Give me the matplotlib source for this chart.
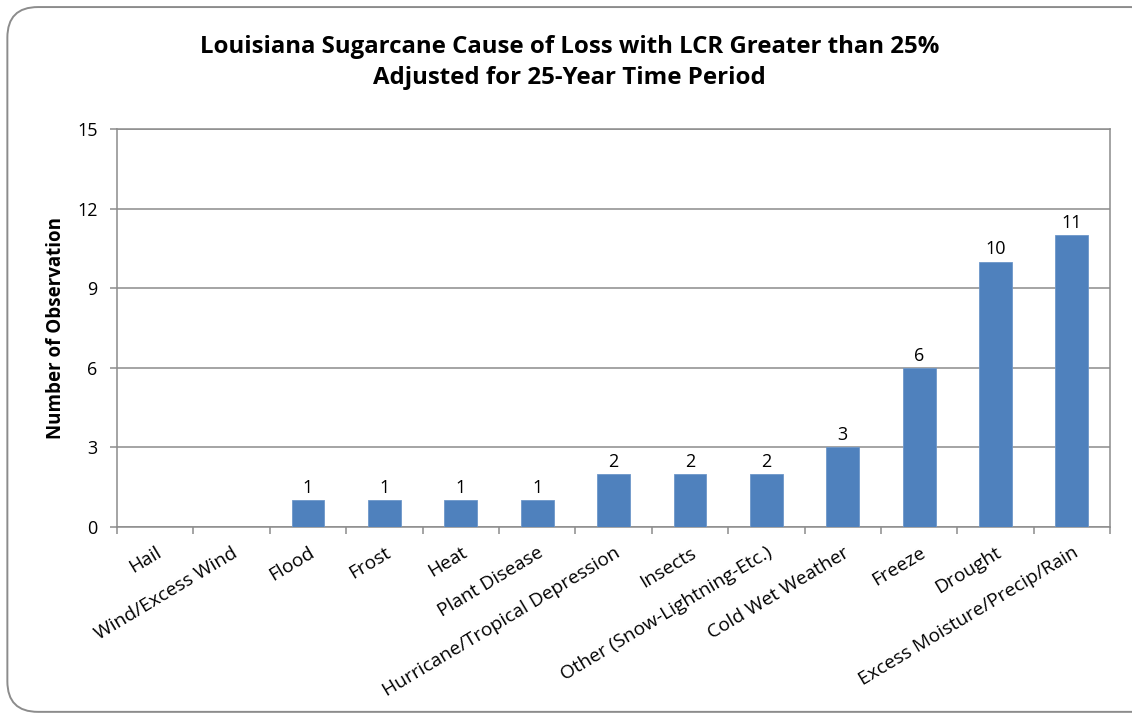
import matplotlib.pyplot as plt
from matplotlib.patches import FancyBboxPatch
import numpy as np

causes = ['Hail', 'Wind/Excess Wind', 'Flood', 'Frost', 'Heat', 'Plant Disease',
          'Hurricane/Tropical Depression', 'Insects', 'Other (Snow-Lightning-Etc.)',
          'Cold Wet Weather', 'Freeze', 'Drought', 'Excess Moisture/Precip/Rain']
counts = [0, 0, 1, 1, 1, 1, 2, 2, 2, 3, 6, 10, 11]
yticks = [0, 3, 6, 9, 12, 15]

plt.rcParams['font.family'] = ['Open Sans', 'DejaVu Sans']

fig = plt.figure(figsize=(11.32, 7.13), dpi=100)
# chart border with rounded corners (right edge runs off the picture)
fig.patches.append(FancyBboxPatch((0.0065, 0.0016), 1.02, 0.9885,
                                  boxstyle='round,pad=0,rounding_size=0.027',
                                  transform=fig.transFigure, fill=False,
                                  edgecolor='#8c8c8c', linewidth=1.4,
                                  mutation_aspect=1132 / 713))

ax = fig.add_axes([0.1034, 0.2609, 0.8772, 0.5582])
x = np.arange(len(causes))
bars = ax.bar(x, counts, width=0.43, color='#4f81bd', edgecolor='#6d97c9',
              linewidth=0.6, zorder=3)
for xi, c in zip(x, counts):
    if c > 0:
        ax.text(xi, c + 0.12, str(c), ha='center', va='bottom', fontsize=13)

ax.set_xlim(-0.5, len(causes) - 0.5)
ax.set_ylim(0, 15)
ax.set_yticks(yticks)
ax.set_yticklabels([str(v) for v in yticks], fontsize=13)
ax.yaxis.grid(True, color='#8c8c8c', linewidth=1.1, zorder=0)
ax.set_xticks(x)
ax.set_xticklabels(causes, rotation=31, ha='right', rotation_mode='anchor',
                   fontsize=13.8)
ax.tick_params(axis='x', which='major', length=0, pad=12)
ax.set_xticks(np.arange(-0.5, len(causes), 1), minor=True)
ax.tick_params(axis='x', which='minor', length=5, color='#8c8c8c', width=1.1)
ax.tick_params(axis='y', length=5, color='#8c8c8c', width=1.1, pad=9)
for side in ['left', 'bottom', 'top', 'right']:
    ax.spines[side].set_color('#8c8c8c')
    ax.spines[side].set_linewidth(1.1)

ax.set_ylabel('Number of Observation', fontsize=13.5, fontweight='bold', labelpad=8)
fig.text(0.503, 0.912, 'Louisiana Sugarcane Cause of Loss with LCR Greater than 25%\n'
         'Adjusted for 25-Year Time Period', ha='center', va='center',
         fontsize=17.3, fontweight='bold', linespacing=1.4)

fig.savefig('out.png', dpi=100)
